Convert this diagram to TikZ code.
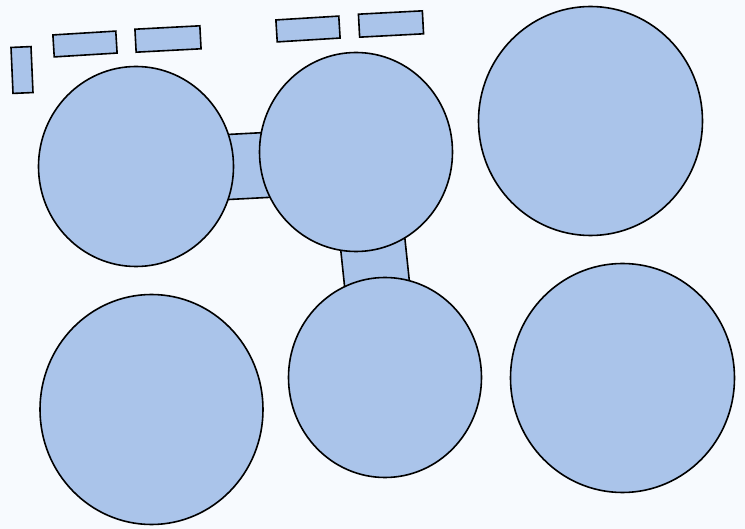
\documentclass[tikz,border=0pt]{standalone}
\usetikzlibrary{shapes.geometric}
\definecolor{discfill}{RGB}{170,196,234}
\definecolor{paper}{RGB}{247,250,254}
\tikzset{
  disc/.style={ellipse, draw=black, line width=1.6pt, fill=discfill, inner sep=0pt},
  tag/.style={rectangle, draw=black, line width=1.6pt, fill=discfill, inner sep=0pt},
  bridge/.style={rectangle, draw=black, line width=1.6pt, fill=discfill, inner sep=0pt}
}
\begin{document}
\begin{tikzpicture}[x=1pt,y=-1pt]
\fill[paper] (0,0) rectangle (745,529);
\useasboundingbox (0,0) rectangle (745,529);
% bridges (behind discs)
\node[bridge, minimum width=46pt, minimum height=65pt, rotate=3] (bAB) at (247,166) {};
\node[bridge, minimum width=65pt, minimum height=72pt, rotate=6] (bBE) at (375,265) {};
% discs
\node[disc, minimum width=195pt, minimum height=200pt] (A) at (136,166.5) {};
\node[disc, minimum width=193pt, minimum height=199pt] (B) at (356,152) {};
\node[disc, minimum width=224pt, minimum height=229pt] (C) at (590.5,121) {};
\node[disc, minimum width=223pt, minimum height=230pt] (D) at (151.5,409.5) {};
\node[disc, minimum width=193pt, minimum height=200pt] (E) at (385,377.5) {};
\node[disc, minimum width=224pt, minimum height=229pt] (F) at (622.5,378) {};
% small tags
\node[tag, minimum width=20pt, minimum height=46pt, rotate=2.5] (t1) at (22,70) {};
\node[tag, minimum width=63pt, minimum height=22pt, rotate=3.5] (t2) at (85,44) {};
\node[tag, minimum width=65pt, minimum height=23pt, rotate=3] (t3) at (168,39) {};
\node[tag, minimum width=63pt, minimum height=22pt, rotate=3.5] (t4) at (308,29) {};
\node[tag, minimum width=64pt, minimum height=23pt, rotate=3] (t5) at (391,24) {};
\end{tikzpicture}
\end{document}
